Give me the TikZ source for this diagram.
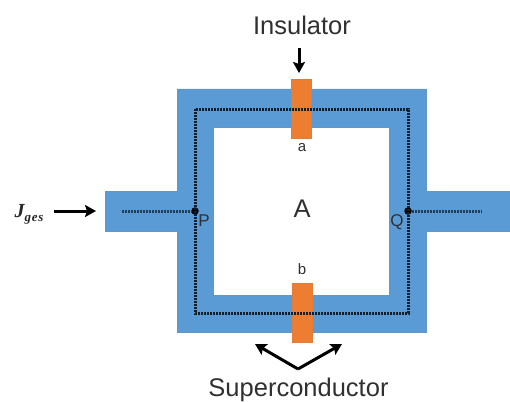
\documentclass[tikz,border=0pt]{standalone}
\usepackage{fontspec}
\setmainfont{Liberation Sans}
\newfontfamily\jfont{Liberation Serif}
\usetikzlibrary{arrows.meta}
\definecolor{sc}{HTML}{5B9BD5}
\definecolor{ins}{HTML}{ED7D31}
\definecolor{txt}{HTML}{303030}
\tikzset{
  every node/.style={text=txt,inner sep=0pt,outer sep=0pt},
  scpart/.style={fill=sc,draw=sc!85!gray,line width=0.5pt},
  inspart/.style={fill=ins,draw=ins!90!gray,line width=0.4pt},
  dotline/.style={draw=black!80!sc,line width=3pt,dash pattern=on 2pt off 1pt},
  leadline/.style={draw=black!60!sc,line width=3pt,dash pattern=on 2pt off 1pt},
  junction/.style={circle,fill=black,minimum size=7.5pt},
  pointer/.style={draw=black,line width=3pt,-{Stealth[length=11pt,width=12pt,inset=2pt]}},
  big/.style={font=\fontsize{25.5}{28}\selectfont},
  mid/.style={font=\fontsize{17}{20}\selectfont},
  small/.style={font=\fontsize{15}{18}\selectfont}
}
\begin{document}
\begin{tikzpicture}[x=1pt,y=-1pt]
\useasboundingbox (0,0) rectangle (510,401);
% superconductor body
\path[scpart,even odd rule]
  (177,89) -- (426,89) -- (426,191) -- (510,191) -- (510,231) -- (426,231) -- (426,332)
  -- (177,332) -- (177,231) -- (105,231) -- (105,191) -- (177,191) -- cycle
  (213,127) rectangle (389,295);
% insulators
\path[inspart] (291,79) rectangle (311,138);
\path[inspart] (292,283) rectangle (312,342);
% junction points and current path
\node[junction] (P) at (195,211) {};
\node[junction] (Q) at (408,211) {};
\coordinate (inL) at (122,211);
\coordinate (inR) at (482,211);
\draw[leadline] (inL) -- (P);
\draw[leadline] (Q) -- (inR);
\draw[dotline] (195,109) rectangle (408,313);
% labels
\node[big] (ins) at (302,25) {Insulator};
\node[big] (sup) at (298.5,390) {Superconductor};
\node[big] (A) at (302,209) {A};
\node[mid] at (204,221) {P};
\node[mid] at (397,222) {Q};
\node[small] (a) at (302,148) {a};
\node[small] (b) at (302,269) {b};
\node[text=black!85] (J) at (29,214) {\jfont\bfseries\itshape\fontsize{20}{20}\selectfont J\raisebox{-4pt}{\fontsize{13}{14}\selectfont\addfontfeature{LetterSpace=6} ges}};
% pointers
\coordinate (insTip) at (299,73);
\coordinate (insTail) at (299,48);
\draw[pointer] (insTail) -- (insTip);
\coordinate (jTail) at (54,211);
\coordinate (jTip) at (96,211);
\draw[pointer] (jTail) -- (jTip);
\coordinate (v) at (298,369);
\coordinate (vL) at (255,344);
\coordinate (vR) at (342,344);
\draw[pointer] (v) -- (vL);
\draw[pointer] (v) -- (vR);
\end{tikzpicture}
\end{document}
